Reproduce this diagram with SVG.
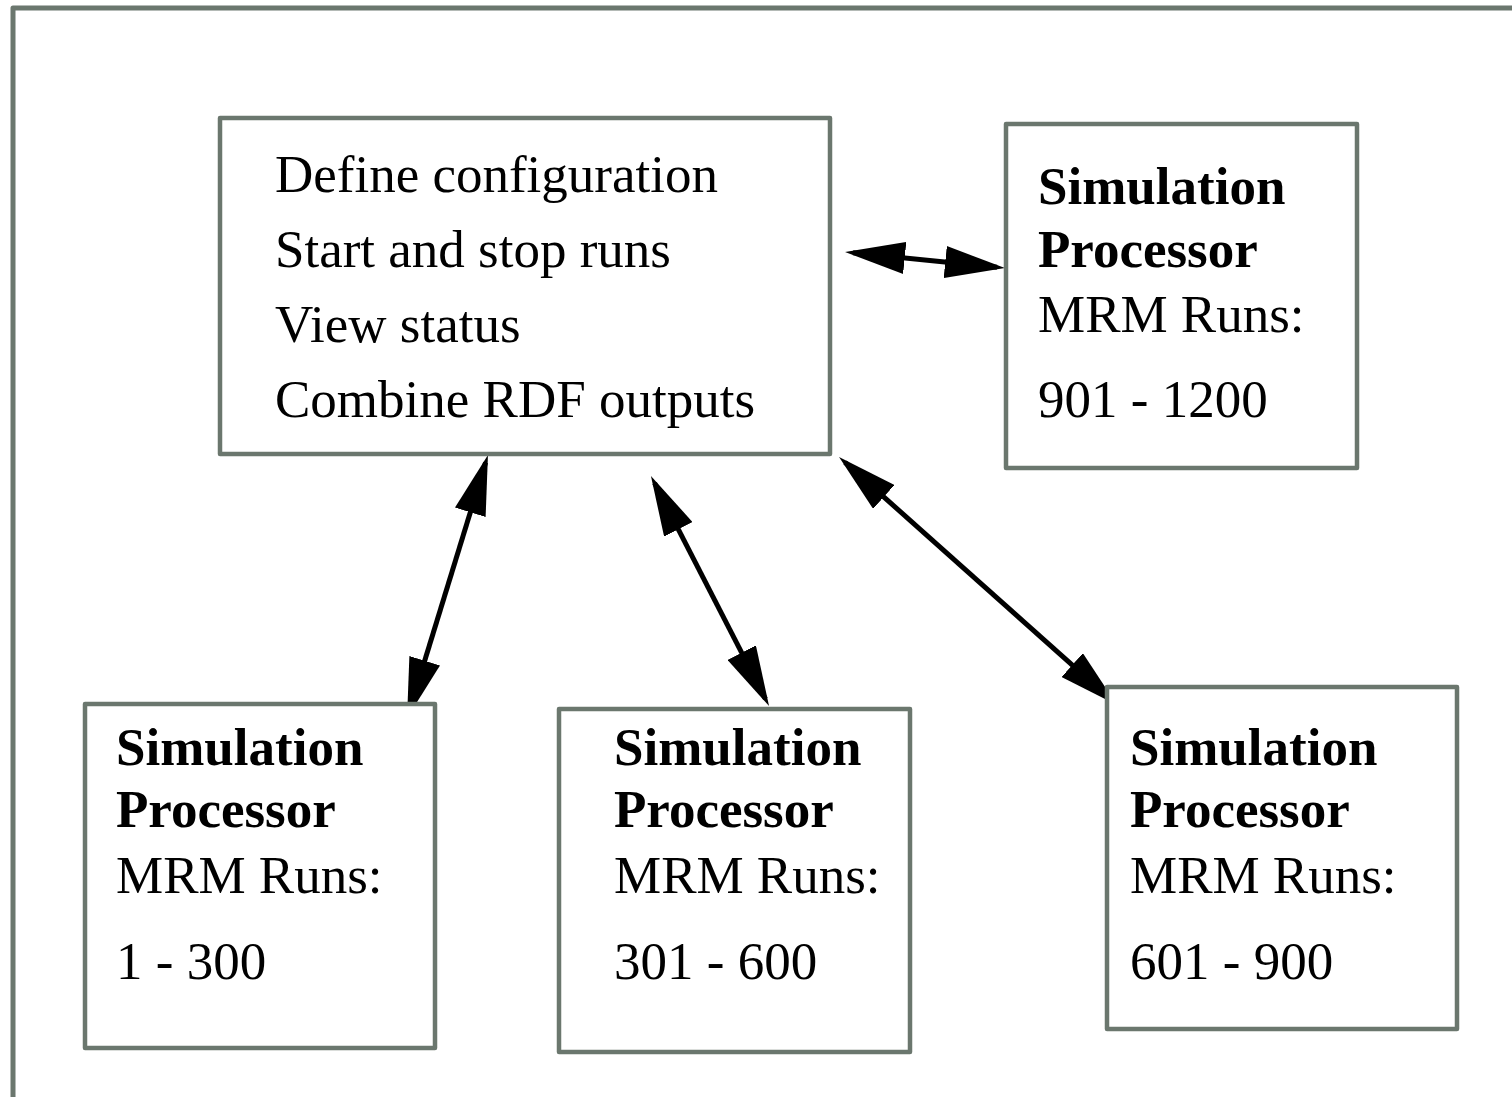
<svg xmlns="http://www.w3.org/2000/svg" width="1512" height="1097" viewBox="0 0 1512 1097">
  <style>
    .frame { fill: none; stroke: #6b776e; stroke-width: 5; stroke-linejoin: round; }
    .box { fill: #ffffff; stroke: #6b776e; stroke-width: 4.5; stroke-linejoin: round; }
    .txt { font-family: "Liberation Serif", "Times New Roman", serif; font-size: 53px; fill: #000000; }
    .b { font-weight: bold; }
    .conn { stroke: #000000; stroke-width: 5; fill: none; marker-start: url(#ah); marker-end: url(#ah); }
  </style>
  <defs>
    <marker id="ah" viewBox="0 0 60 32" refX="52" refY="16" markerWidth="60" markerHeight="32" markerUnits="userSpaceOnUse" orient="auto-start-reverse">
      <path d="M0,0 L60,16 L0,32 Z" fill="#000000"/>
    </marker>
  </defs>
  <rect width="1512" height="1097" fill="#ffffff"/>
  <rect class="frame" x="13" y="8" width="1600" height="1200"/>

  <g id="connectors">
    <line class="conn" x1="853" y1="252.8" x2="997" y2="267.2"/>
    <line class="conn" x1="485.6" y1="462.6" x2="409.4" y2="710.4"/>
    <line class="conn" x1="654.6" y1="483.1" x2="765.4" y2="698.9"/>
    <line class="conn" x1="845" y1="462.3" x2="1111" y2="699.7"/>
  </g>

  <g id="controller">
    <rect class="box" x="220" y="118" width="610" height="336"/>
    <text class="txt" x="275" y="192">Define configuration</text>
    <text class="txt" x="275" y="267">Start and stop runs</text>
    <text class="txt" x="275" y="342">View status</text>
    <text class="txt" x="275" y="417">Combine RDF outputs</text>
  </g>

  <g id="proc4">
    <rect class="box" x="1006" y="124" width="351" height="344"/>
    <text class="txt b" x="1038" y="204">Simulation</text>
    <text class="txt b" x="1038" y="267">Processor</text>
    <text class="txt" x="1038" y="332">MRM Runs:</text>
    <text class="txt" x="1038" y="417">901 - 1200</text>
  </g>

  <g id="proc1">
    <rect class="box" x="85" y="704" width="350" height="344"/>
    <text class="txt b" x="116" y="765">Simulation</text>
    <text class="txt b" x="116" y="827">Processor</text>
    <text class="txt" x="116" y="893">MRM Runs:</text>
    <text class="txt" x="116" y="979">1 - 300</text>
  </g>

  <g id="proc2">
    <rect class="box" x="559" y="709" width="351" height="343"/>
    <text class="txt b" x="614" y="765">Simulation</text>
    <text class="txt b" x="614" y="827">Processor</text>
    <text class="txt" x="614" y="893">MRM Runs:</text>
    <text class="txt" x="614" y="979">301 - 600</text>
  </g>

  <g id="proc3">
    <rect class="box" x="1107" y="687" width="350" height="342"/>
    <text class="txt b" x="1130" y="765">Simulation</text>
    <text class="txt b" x="1130" y="827">Processor</text>
    <text class="txt" x="1130" y="893">MRM Runs:</text>
    <text class="txt" x="1130" y="979">601 - 900</text>
  </g>
</svg>
